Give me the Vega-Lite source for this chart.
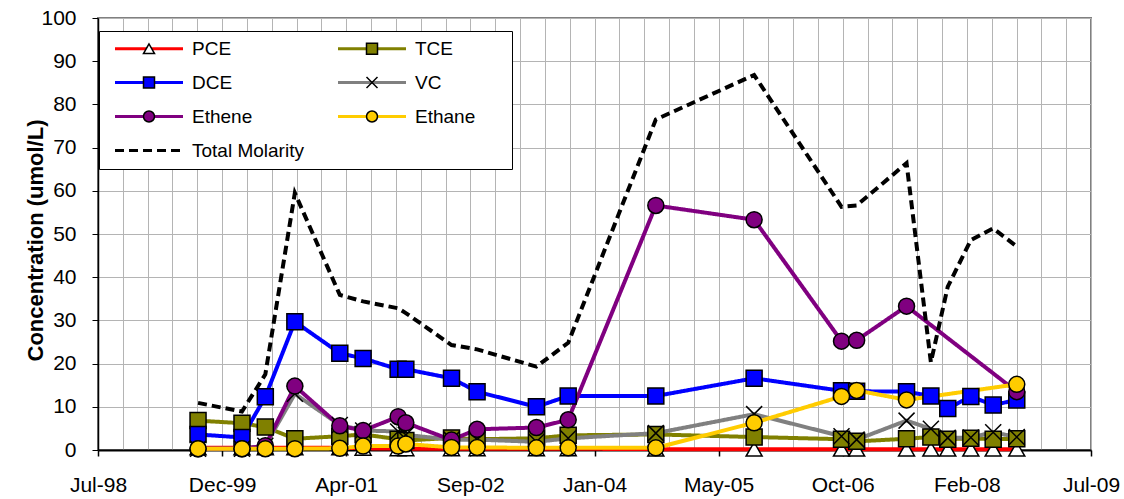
{
  "$schema": "https://vega.github.io/schema/vega-lite/v6.json",
  "width": 993,
  "height": 432,
  "autosize": {"type": "none"},
  "padding": {"left": 98, "top": 18, "right": 33, "bottom": 49},
  "background": "white",
  "config": {
    "font": "Liberation Sans",
    "view": {"stroke": "#808080", "strokeWidth": 2, "fill": "white"}
  },
  "data": {
    "values": [
      {"date": "1999-08-31", "series": "PCE", "value": 0.5},
      {"date": "2000-02-24", "series": "PCE", "value": 0.5},
      {"date": "2000-05-28", "series": "PCE", "value": 0.5},
      {"date": "2000-09-24", "series": "PCE", "value": 0.5},
      {"date": "2001-03-24", "series": "PCE", "value": 0.5},
      {"date": "2001-06-26", "series": "PCE", "value": 0.4},
      {"date": "2001-11-14", "series": "PCE", "value": 0.3},
      {"date": "2001-12-15", "series": "PCE", "value": 0.3},
      {"date": "2002-06-17", "series": "PCE", "value": 0.3},
      {"date": "2002-09-28", "series": "PCE", "value": 0.3},
      {"date": "2003-05-25", "series": "PCE", "value": 0.3},
      {"date": "2003-09-30", "series": "PCE", "value": 0.3},
      {"date": "2004-09-17", "series": "PCE", "value": 0.2},
      {"date": "2005-10-18", "series": "PCE", "value": 0.2},
      {"date": "2006-10-05", "series": "PCE", "value": 0.2},
      {"date": "2006-12-05", "series": "PCE", "value": 0.2},
      {"date": "2007-06-24", "series": "PCE", "value": 0.2},
      {"date": "2007-09-30", "series": "PCE", "value": 0.2},
      {"date": "2007-12-07", "series": "PCE", "value": 0.2},
      {"date": "2008-03-09", "series": "PCE", "value": 0.2},
      {"date": "2008-06-07", "series": "PCE", "value": 0.2},
      {"date": "2008-09-10", "series": "PCE", "value": 0.2},

      {"date": "1999-08-31", "series": "TCE", "value": 6.8},
      {"date": "2000-02-24", "series": "TCE", "value": 6.2},
      {"date": "2000-05-28", "series": "TCE", "value": 5.3},
      {"date": "2000-09-24", "series": "TCE", "value": 2.6},
      {"date": "2001-03-24", "series": "TCE", "value": 3.2},
      {"date": "2001-06-26", "series": "TCE", "value": 3.6},
      {"date": "2001-11-14", "series": "TCE", "value": 2.5},
      {"date": "2001-12-15", "series": "TCE", "value": 2.2},
      {"date": "2002-06-17", "series": "TCE", "value": 2.8},
      {"date": "2002-09-28", "series": "TCE", "value": 2.5},
      {"date": "2003-05-25", "series": "TCE", "value": 2.7},
      {"date": "2003-09-30", "series": "TCE", "value": 3.4},
      {"date": "2004-09-17", "series": "TCE", "value": 3.6},
      {"date": "2005-10-18", "series": "TCE", "value": 3.0},
      {"date": "2006-10-05", "series": "TCE", "value": 2.5},
      {"date": "2006-12-05", "series": "TCE", "value": 2.0},
      {"date": "2007-06-24", "series": "TCE", "value": 2.6},
      {"date": "2007-09-30", "series": "TCE", "value": 3.0},
      {"date": "2007-12-07", "series": "TCE", "value": 2.5},
      {"date": "2008-03-09", "series": "TCE", "value": 2.7},
      {"date": "2008-06-07", "series": "TCE", "value": 2.5},
      {"date": "2008-09-10", "series": "TCE", "value": 2.6},

      {"date": "1999-08-31", "series": "DCE", "value": 3.6},
      {"date": "2000-02-24", "series": "DCE", "value": 2.9},
      {"date": "2000-05-28", "series": "DCE", "value": 12.3},
      {"date": "2000-09-24", "series": "DCE", "value": 29.7},
      {"date": "2001-03-24", "series": "DCE", "value": 22.4},
      {"date": "2001-06-26", "series": "DCE", "value": 21.2},
      {"date": "2001-11-14", "series": "DCE", "value": 18.7},
      {"date": "2001-12-15", "series": "DCE", "value": 18.7},
      {"date": "2002-06-17", "series": "DCE", "value": 16.6},
      {"date": "2002-09-28", "series": "DCE", "value": 13.5},
      {"date": "2003-05-25", "series": "DCE", "value": 10.0},
      {"date": "2003-09-30", "series": "DCE", "value": 12.5},
      {"date": "2004-09-17", "series": "DCE", "value": 12.5},
      {"date": "2005-10-18", "series": "DCE", "value": 16.6},
      {"date": "2006-10-05", "series": "DCE", "value": 13.7},
      {"date": "2006-12-05", "series": "DCE", "value": 13.6},
      {"date": "2007-06-24", "series": "DCE", "value": 13.5},
      {"date": "2007-09-30", "series": "DCE", "value": 12.5},
      {"date": "2007-12-07", "series": "DCE", "value": 9.6},
      {"date": "2008-03-09", "series": "DCE", "value": 12.4},
      {"date": "2008-06-07", "series": "DCE", "value": 10.4},
      {"date": "2008-09-10", "series": "DCE", "value": 11.6},

      {"date": "1999-08-31", "series": "VC", "value": 0.3},
      {"date": "2000-02-24", "series": "VC", "value": 0.3},
      {"date": "2000-05-28", "series": "VC", "value": 1.0},
      {"date": "2000-09-24", "series": "VC", "value": 13.0},
      {"date": "2001-03-24", "series": "VC", "value": 5.8},
      {"date": "2001-06-26", "series": "VC", "value": 4.5},
      {"date": "2001-11-14", "series": "VC", "value": 4.3},
      {"date": "2001-12-15", "series": "VC", "value": 3.5},
      {"date": "2002-06-17", "series": "VC", "value": 2.4},
      {"date": "2002-09-28", "series": "VC", "value": 2.4},
      {"date": "2003-05-25", "series": "VC", "value": 1.9},
      {"date": "2003-09-30", "series": "VC", "value": 2.7},
      {"date": "2004-09-17", "series": "VC", "value": 3.9},
      {"date": "2005-10-18", "series": "VC", "value": 8.3},
      {"date": "2006-10-05", "series": "VC", "value": 3.2},
      {"date": "2006-12-05", "series": "VC", "value": 2.4},
      {"date": "2007-06-24", "series": "VC", "value": 6.8},
      {"date": "2007-09-30", "series": "VC", "value": 4.9},
      {"date": "2007-12-07", "series": "VC", "value": 2.8},
      {"date": "2008-03-09", "series": "VC", "value": 2.9},
      {"date": "2008-06-07", "series": "VC", "value": 4.1},
      {"date": "2008-09-10", "series": "VC", "value": 3.0},

      {"date": "1999-08-31", "series": "Ethene", "value": 0.3},
      {"date": "2000-02-24", "series": "Ethene", "value": 0.3},
      {"date": "2000-05-28", "series": "Ethene", "value": 1.0},
      {"date": "2000-09-24", "series": "Ethene", "value": 14.8},
      {"date": "2001-03-24", "series": "Ethene", "value": 5.6},
      {"date": "2001-06-26", "series": "Ethene", "value": 4.5},
      {"date": "2001-11-14", "series": "Ethene", "value": 7.7},
      {"date": "2001-12-15", "series": "Ethene", "value": 6.3},
      {"date": "2002-06-17", "series": "Ethene", "value": 2.3},
      {"date": "2002-09-28", "series": "Ethene", "value": 4.8},
      {"date": "2003-05-25", "series": "Ethene", "value": 5.2},
      {"date": "2003-09-30", "series": "Ethene", "value": 7.0},
      {"date": "2004-09-17", "series": "Ethene", "value": 56.6},
      {"date": "2005-10-18", "series": "Ethene", "value": 53.3},
      {"date": "2006-10-05", "series": "Ethene", "value": 25.2},
      {"date": "2006-12-05", "series": "Ethene", "value": 25.4},
      {"date": "2007-06-24", "series": "Ethene", "value": 33.3},
      {"date": "2008-09-10", "series": "Ethene", "value": 13.5},

      {"date": "1999-08-31", "series": "Ethane", "value": 0.3},
      {"date": "2000-02-24", "series": "Ethane", "value": 0.3},
      {"date": "2000-05-28", "series": "Ethane", "value": 0.3},
      {"date": "2000-09-24", "series": "Ethane", "value": 0.3},
      {"date": "2001-03-24", "series": "Ethane", "value": 0.4},
      {"date": "2001-06-26", "series": "Ethane", "value": 0.9},
      {"date": "2001-11-14", "series": "Ethane", "value": 0.9},
      {"date": "2001-12-15", "series": "Ethane", "value": 1.4},
      {"date": "2002-06-17", "series": "Ethane", "value": 0.6},
      {"date": "2002-09-28", "series": "Ethane", "value": 0.6},
      {"date": "2003-05-25", "series": "Ethane", "value": 0.5},
      {"date": "2003-09-30", "series": "Ethane", "value": 0.5},
      {"date": "2004-09-17", "series": "Ethane", "value": 0.5},
      {"date": "2005-10-18", "series": "Ethane", "value": 6.3},
      {"date": "2006-10-05", "series": "Ethane", "value": 12.4},
      {"date": "2006-12-05", "series": "Ethane", "value": 13.8},
      {"date": "2007-06-24", "series": "Ethane", "value": 11.6},
      {"date": "2008-09-10", "series": "Ethane", "value": 15.2},

      {"date": "1999-08-31", "series": "Total Molarity", "value": 10.9},
      {"date": "2000-02-24", "series": "Total Molarity", "value": 8.9},
      {"date": "2000-05-28", "series": "Total Molarity", "value": 17.5},
      {"date": "2000-09-24", "series": "Total Molarity", "value": 59.5},
      {"date": "2001-03-24", "series": "Total Molarity", "value": 35.9},
      {"date": "2001-06-26", "series": "Total Molarity", "value": 34.4},
      {"date": "2001-11-14", "series": "Total Molarity", "value": 32.8},
      {"date": "2001-12-15", "series": "Total Molarity", "value": 31.7},
      {"date": "2002-06-17", "series": "Total Molarity", "value": 24.3},
      {"date": "2002-09-28", "series": "Total Molarity", "value": 23.3},
      {"date": "2003-05-25", "series": "Total Molarity", "value": 19.3},
      {"date": "2003-09-30", "series": "Total Molarity", "value": 24.8},
      {"date": "2004-09-17", "series": "Total Molarity", "value": 76.5},
      {"date": "2005-10-18", "series": "Total Molarity", "value": 86.8},
      {"date": "2006-10-05", "series": "Total Molarity", "value": 56.3},
      {"date": "2006-12-05", "series": "Total Molarity", "value": 56.6},
      {"date": "2007-06-24", "series": "Total Molarity", "value": 66.4},
      {"date": "2007-09-30", "series": "Total Molarity", "value": 20.3},
      {"date": "2007-12-07", "series": "Total Molarity", "value": 37.8},
      {"date": "2008-03-09", "series": "Total Molarity", "value": 48.6},
      {"date": "2008-06-07", "series": "Total Molarity", "value": 51.3},
      {"date": "2008-09-10", "series": "Total Molarity", "value": 47.1}
    ]
  },
  "encoding": {
    "x": {
      "field": "date",
      "type": "temporal",
      "scale": {"type": "utc", "domain": [901238400000, 1246838400000], "nice": false},
      "axis": {
        "title": null,
        "values": [901238400000, 909878400000, 918518400000, 927158400000, 935798400000, 944438400000, 953078400000, 961718400000, 970358400000, 978998400000, 987638400000, 996278400000, 1004918400000, 1013558400000, 1022198400000, 1030838400000, 1039478400000, 1048118400000, 1056758400000, 1065398400000, 1074038400000, 1082678400000, 1091318400000, 1099958400000, 1108598400000, 1117238400000, 1125878400000, 1134518400000, 1143158400000, 1151798400000, 1160438400000, 1169078400000, 1177718400000, 1186358400000, 1194998400000, 1203638400000, 1212278400000, 1220918400000, 1229558400000, 1238198400000, 1246838400000],
        "labelExpr": "(datum.value - 901238400000) % 43200000000 === 0 ? utcFormat(datum.value, '%b-%y') : ''",
        "labelOverlap": false,
        "labelFlush": false,
        "labelFont": "Liberation Sans",
        "labelFontSize": 21,
        "labelColor": "black",
        "labelPadding": 18,
        "tickSize": 6,
        "tickColor": "black",
        "tickWidth": 1.5,
        "tickOpacity": {"condition": {"test": "(datum.value - 901238400000) % 43200000000 === 0", "value": 1}, "value": 0},
        "grid": true,
        "gridColor": "#b4b4b4",
        "gridWidth": 1,
        "domainColor": "black",
        "domainWidth": 2
      }
    },
    "y": {
      "field": "value",
      "type": "quantitative",
      "scale": {"domain": [0, 100], "nice": false},
      "axis": {
        "values": [0, 10, 20, 30, 40, 50, 60, 70, 80, 90, 100],
        "grid": true,
        "gridColor": "#b4b4b4",
        "gridWidth": 1,
        "labelFont": "Liberation Sans",
        "labelFontSize": 21,
        "labelColor": "black",
        "labelPadding": 16,
        "tickSize": 6,
        "tickColor": "black",
        "domainColor": "black",
        "domainWidth": 1.5,
        "title": "Concentration (umol/L)",
        "titleFont": "Liberation Sans",
        "titleFontSize": 22,
        "titleFontWeight": "bold",
        "titleColor": "black",
        "titleAngle": 270,
        "titleAlign": "center",
        "titleBaseline": "alphabetic",
        "titleX": -56,
        "titleY": 222
      }
    }
  },
  "layer": [
    {
      "mark": {"type": "line", "strokeWidth": 4},
      "encoding": {
        "stroke": {
          "field": "series",
          "type": "nominal",
          "scale": {
            "domain": ["PCE", "TCE", "DCE", "VC", "Ethene", "Ethane", "Total Molarity"],
            "range": ["#FF0000", "#808000", "#0000FF", "#808080", "#800080", "#FFCC00", "#000000"]
          },
          "legend": {
            "orient": "none", "legendX": 1, "legendY": 13, "title": null, "columns": 2, "direction": "horizontal",
            "symbolType": "M-4.25,0H4.25", "symbolSize": 256, "symbolStrokeWidth": 3,
            "symbolOffset": 32.5, "labelOffset": 33.5,
            "labelFont": "Liberation Sans", "labelFontSize": 19, "labelColor": "black", "labelLimit": 400,
            "labelExpr": "datum.label == 'Ethane' ? 'Ethane\u2800\u2800' : datum.label",
            "columnPadding": 26, "rowPadding": 14, "padding": 8, "gridAlign": "each",
            "fillColor": "white", "strokeColor": "black"
          }
        },
        "strokeDash": {
          "field": "series",
          "type": "nominal",
          "scale": {
            "domain": ["PCE", "TCE", "DCE", "VC", "Ethene", "Ethane", "Total Molarity"],
            "range": [[1, 0], [1, 0], [1, 0], [1, 0], [1, 0], [1, 0], [9, 5]]
          },
          "legend": {
            "orient": "none", "legendX": 1, "legendY": 13, "title": null, "columns": 2, "direction": "horizontal",
            "symbolType": "M-4.25,0H4.25", "symbolSize": 256, "symbolStrokeWidth": 3,
            "symbolOffset": 32.5, "labelOffset": 33.5,
            "labelFont": "Liberation Sans", "labelFontSize": 19, "labelColor": "black", "labelLimit": 400,
            "labelExpr": "datum.label == 'Ethane' ? 'Ethane\u2800\u2800' : datum.label",
            "columnPadding": 26, "rowPadding": 14, "padding": 8, "gridAlign": "each",
            "fillColor": "white", "strokeColor": "black"
          }
        }
      }
    },
    {
      "transform": [{"filter": "datum.series != 'Total Molarity'"}],
      "mark": {"type": "point", "filled": true, "stroke": "black", "strokeWidth": 1.5, "size": 256, "opacity": 1},
      "encoding": {
        "fill": {
          "field": "series",
          "type": "nominal",
          "scale": {
            "domain": ["PCE", "TCE", "DCE", "VC", "Ethene", "Ethane"],
            "range": ["#FFFFFF", "#808000", "#0000FF", "transparent", "#800080", "#FFCC00"]
          },
          "legend": {
            "orient": "none", "legendX": 1, "legendY": 13, "title": null, "columns": 2, "direction": "horizontal",
            "symbolSize": 121, "symbolStrokeWidth": 1.5, "symbolStrokeColor": "black",
            "symbolOffset": 32.5, "labelOffset": 33.5,
            "labelFont": "Liberation Sans", "labelFontSize": 19, "labelOpacity": 0,
            "labelExpr": "''",
            "columnPadding": 138, "rowPadding": 14, "padding": 8, "gridAlign": "each",
            "encoding": {"symbols": {"stroke": {"value": "black"}, "strokeWidth": {"value": 1.5}}}
          }
        },
        "shape": {
          "field": "series",
          "type": "nominal",
          "scale": {
            "domain": ["PCE", "TCE", "DCE", "VC", "Ethene", "Ethane"],
            "range": ["triangle-up", "square", "square", "M-1,-1L1,1M-1,1L1,-1", "circle", "circle"]
          },
          "legend": {
            "orient": "none", "legendX": 1, "legendY": 13, "title": null, "columns": 2, "direction": "horizontal",
            "symbolSize": 121, "symbolStrokeWidth": 1.5, "symbolStrokeColor": "black",
            "symbolOffset": 32.5, "labelOffset": 33.5,
            "labelFont": "Liberation Sans", "labelFontSize": 19, "labelOpacity": 0,
            "labelExpr": "''",
            "columnPadding": 138, "rowPadding": 14, "padding": 8, "gridAlign": "each",
            "encoding": {"symbols": {"stroke": {"value": "black"}, "strokeWidth": {"value": 1.5}}}
          }
        }
      }
    }
  ]
}
